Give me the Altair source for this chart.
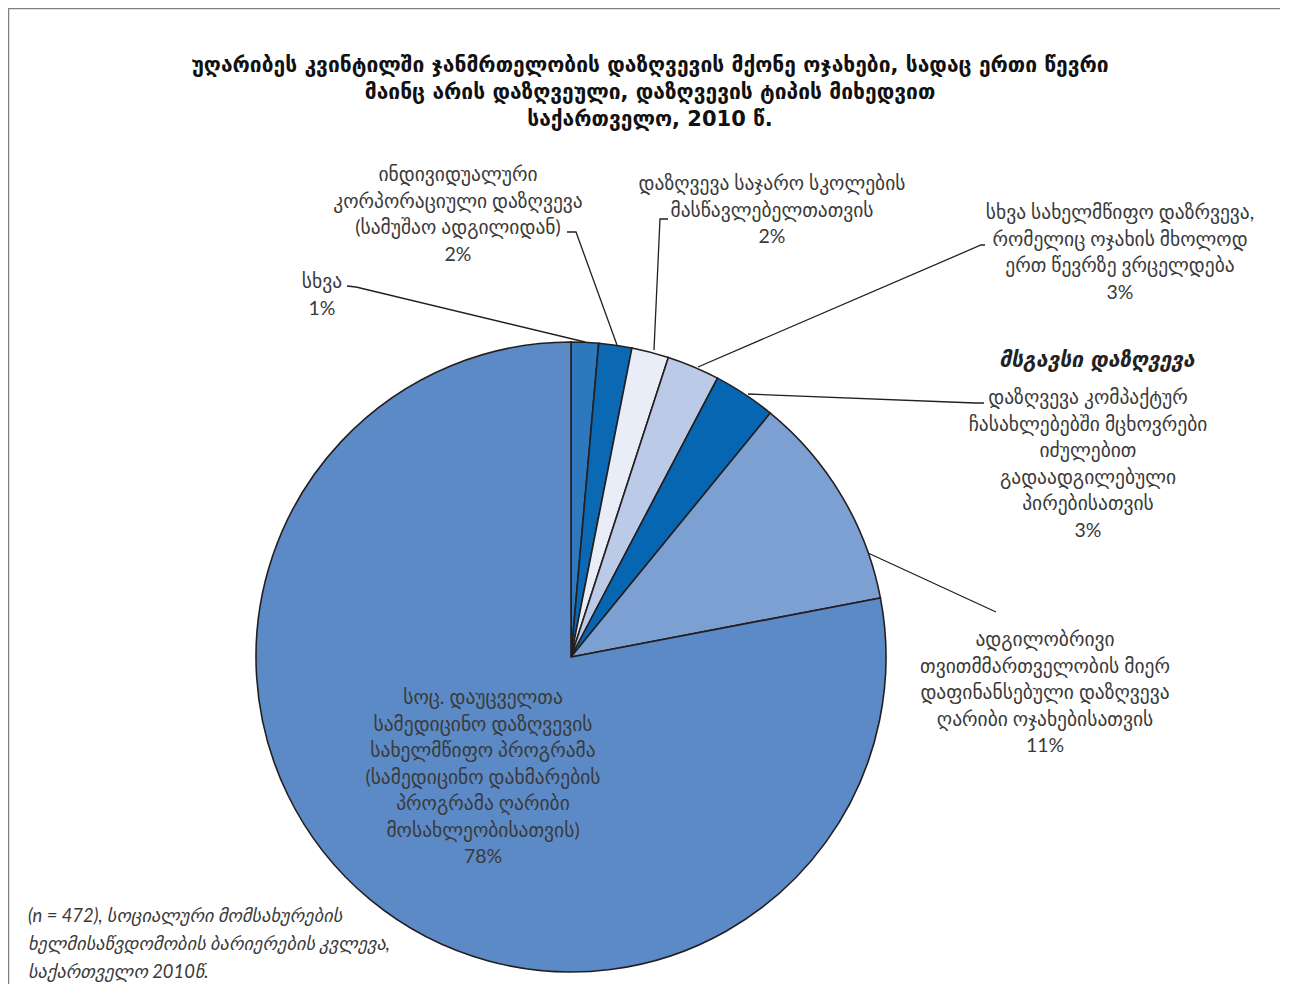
import altair as alt
import pandas as pd

# ---------------- data ----------------
categories = [
    "სხვა",
    "ინდივიდუალური\nკორპორაციული დაზღვევა\n(სამუშაო ადგილიდან)",
    "დაზღვევა საჯარო სკოლების\nმასწავლებელთათვის",
    "სხვა სახელმწიფო დაზრვევა,\nრომელიც ოჯახის მხოლოდ\nერთ წევრზე ვრცელდება",
    "დაზღვევა კომპაქტურ\nჩასახლებებში მცხოვრები\nიძულებით\nგადაადგილებული\nპირებისათვის",
    "ადგილობრივი\nთვითმმართველობის მიერ\nდაფინანსებული დაზღვევა\nღარიბი ოჯახებისათვის",
    "სოც. დაუცველთა\nსამედიცინო დაზღვევის\nსახელმწიფო პროგრამა\n(სამედიცინო დახმარების\nპროგრამა ღარიბი\nმოსახლეობისათვის)",
]
values = [1.4, 1.7, 1.9, 2.7, 3.2, 11.1, 78.0]
pct_labels = ["1%", "2%", "2%", "3%", "3%", "11%", "78%"]
colors = ["#2E79BE", "#0A69B2", "#E8EDF7", "#BBCBE7", "#0666B1", "#7DA0D3", "#5B8AC6"]

title_lines = [
    "უღარიბეს კვინტილში ჯანმრთელობის დაზღვევის მქონე ოჯახები, სადაც ერთი წევრი",
    "მაინც არის დაზღვეული, დაზღვევის ტიპის მიხედვით",
    "საქართველო, 2010 წ.",
]
group_label = "მსგავსი დაზღვევა"
footnote_lines = [
    "(n = 472), სოციალური მომსახურების",
    "ხელმისაწვდომობის ბარიერების კვლევა,",
    "საქართველო 2010წ.",
]

# ---------------- layout (page pixels) ----------------
OFF = 8
W, H = 1272, 976
CX, CY, R = 571, 657, 315
label_x = [322, 458, 772, 1120, 1088, 1045, 483]
label_y = [282, 175, 184, 213, 398, 640, 698]
LH = 26.5
leaders = [
    [(347, 286), (356, 287), (585, 342)],
    [(567, 232), (576, 232), (617, 345)],
    [(668, 219), (660, 219), (654, 350)],
    [(985, 245), (981, 245), (698, 367)],
    [(984, 403), (975, 403), (748, 394)],
    [(868, 553), (996, 612)],
]

FONT = "Lato, DejaVu Sans"
TEXT_COLOR = "#3a3a3a"

pie_df = pd.DataFrame({
    "cat": categories,
    "value": values,
    "idx": list(range(len(values))),
})

pie = alt.Chart(pie_df).mark_arc(
    radius=R, stroke="#231F20", strokeWidth=1.6
).encode(
    theta=alt.Theta("value:Q", stack=True),
    color=alt.Color("cat:N", scale=alt.Scale(domain=categories, range=colors), legend=None),
    order=alt.Order("idx:Q"),
    x=alt.value(CX - OFF),
    y=alt.value(CY - OFF),
)

lab_df = pd.DataFrame({
    "text": [c + "\n" + p for c, p in zip(categories, pct_labels)],
    "x": [v - OFF for v in label_x],
    "y": [v - OFF + 6 for v in label_y],
})
labels = alt.Chart(lab_df).mark_text(
    font=FONT, fontSize=19.5, lineBreak="\n", lineHeight=LH,
    align="center", baseline="alphabetic", color=TEXT_COLOR,
).encode(
    x=alt.X("x:Q", scale=None),
    y=alt.Y("y:Q", scale=None),
    text="text:N",
)

rows = []
for i, pts in enumerate(leaders):
    for j, (px, py) in enumerate(pts):
        rows.append({"id": i, "k": j, "x": px - OFF, "y": py - OFF})
lead_df = pd.DataFrame(rows)
lead = alt.Chart(lead_df).mark_line(color="#231F20", strokeWidth=1.3).encode(
    x=alt.X("x:Q", scale=None),
    y=alt.Y("y:Q", scale=None),
    detail="id:N",
    order="k:Q",
)

title_df = pd.DataFrame({"text": ["\n".join(title_lines)]})
title = alt.Chart(title_df).mark_text(
    font="DejaVu Sans", fontSize=21, fontWeight="bold",
    lineBreak="\n", lineHeight=27, align="center", baseline="alphabetic", color="#111111",
).encode(
    x=alt.value(650 - OFF), y=alt.value(65 - OFF + 7), text="text:N"
)

grp_df = pd.DataFrame({"text": [group_label]})
grp = alt.Chart(grp_df).mark_text(
    font="DejaVu Sans", fontSize=21, fontWeight="bold", fontStyle="italic",
    align="center", baseline="alphabetic", color="#222222",
).encode(
    x=alt.value(1097 - OFF), y=alt.value(360 - OFF + 7), text="text:N"
)

foot_df = pd.DataFrame({"text": ["\n".join(footnote_lines)]})
foot = alt.Chart(foot_df).mark_text(
    font=FONT, fontSize=18.4, fontStyle="italic", lineBreak="\n", lineHeight=28,
    align="left", baseline="alphabetic", color=TEXT_COLOR,
).encode(
    x=alt.value(28 - OFF), y=alt.value(916 - OFF + 6), text="text:N"
)

border = alt.Chart(pd.DataFrame({"a": [0]})).mark_rule(color="#808080", strokeWidth=1.5).encode(
    x=alt.value(0.5), x2=alt.value(W), y=alt.value(0.5)
) + alt.Chart(pd.DataFrame({"a": [0]})).mark_rule(color="#808080", strokeWidth=1.5).encode(
    x=alt.value(0.5), y=alt.value(0), y2=alt.value(H)
)

chart = alt.layer(pie, lead, labels, title, grp, foot, border).properties(
    width=W, height=H, padding=0, autosize=alt.AutoSizeParams(type="none")
).configure_view(stroke=None).configure(background="white")

chart.save("out.html", embed_options={"renderer": "svg", "actions": False})
